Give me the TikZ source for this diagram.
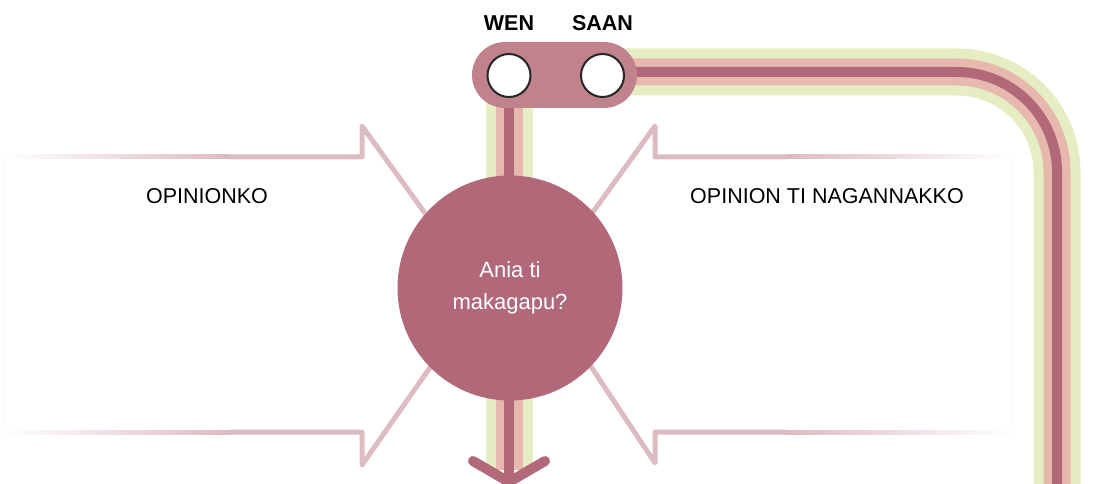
\documentclass[tikz,border=0pt]{standalone}
\usepackage{fontspec}
\setmainfont{Liberation Sans}
\usetikzlibrary{positioning}
\definecolor{qcol}{RGB}{177,104,121}
\definecolor{pillcol}{RGB}{192,130,140}
\definecolor{trkg}{RGB}{229,237,195}
\definecolor{trkp}{RGB}{231,184,174}
\definecolor{outl}{RGB}{221,188,193}

\begin{document}
\begin{tikzpicture}[x=1pt,y=-1pt, line cap=round, line join=round]
					\tikzstyle{stn}=[draw=black!85, line width=2pt, fill=white, circle, minimum size=43pt, inner sep=0pt]
					\tikzstyle{lbl}=[font=\fontsize{21.5}{26}\selectfont\bfseries, inner sep=0pt]
					\tikzstyle{txt}=[font=\fontsize{21.5}{26}\selectfont, inner sep=0pt]
					\tikzstyle{edge}=[draw=outl, line width=5pt]
					\useasboundingbox (0,0) rectangle (1096,484);
					\coordinate (wenp) at (509,75.5);
					\coordinate (saanp) at (602.5,75.5);
					\coordinate (bot) at (509,470);
					\coordinate (tip) at (509,482);
					\coordinate (tk) at (1057,72);
					\coordinate (tend) at (1057,500);

					\foreach \w/\c in {47/trkg,27/trkp,10/qcol}{
						\draw[\c, line width=\w pt, line cap=butt] (wenp) -- (bot);
						\draw[\c, line width=\w pt, line cap=butt, rounded corners=100pt] (saanp |- tk) -- (tk) -- (tend);
					}

					\foreach \i in {0,...,44}{
						\pgfmathsetmacro\p{2+\i*98/44}
						\fill[outl!\p] (5+5*\i,154.5) rectangle (10.6+5*\i,159.5);
						\fill[outl!\p] (5+5*\i,429.5) rectangle (10.6+5*\i,434.5);
						\fill[outl!\p] (1011-5*\i,154.5) rectangle (1005.4-5*\i,159.5);
						\fill[outl!\p] (1011-5*\i,429.5) rectangle (1005.4-5*\i,434.5);
					}
					\draw[edge] (230,157) -- (362,157) -- (362,126) -- (440,234);
					\draw[edge] (230,432) -- (362,432) -- (362,465) -- (445,346);
					\draw[edge] (786,157) -- (655,157) -- (655,126) -- (580,230);
					\draw[edge] (786,432) -- (655,432) -- (655,463) -- (580,350);
					\draw[outl!5, line width=1.5pt] (5,157) -- (5,432);
					\draw[outl!5, line width=1.5pt] (1011,157) -- (1011,432);

					\node[circle, fill=qcol, minimum size=225pt, inner sep=0pt, text=white, align=center, font=\fontsize{22}{32}\selectfont] (q) at (510,288) {Ania ti\\makagapu?};
					\draw[qcol, line width=10pt] (bot) -- (tip);
					\draw[qcol, line width=10pt] (tip) ++(-36,-21) -- (tip) -- ++(36,-21);

					\node[fill=pillcol, minimum width=165pt, minimum height=66pt, rounded corners=33pt, inner sep=0pt] (pill) at (554.5,75) {};
					\node[stn] (wen) at (wenp) {};
					\node[stn] (saan) at (saanp) {};
					\node[lbl] (wenl) [above=22pt of wen] {WEN};
					\node[lbl] (saanl) [above=22pt of saan] {SAAN};

					\node[txt] (opl) at (207,196) {OPINIONKO};
					\node[txt] (opr) at (827,196) {OPINION TI NAGANNAKKO};
				\end{tikzpicture}
\end{document}
